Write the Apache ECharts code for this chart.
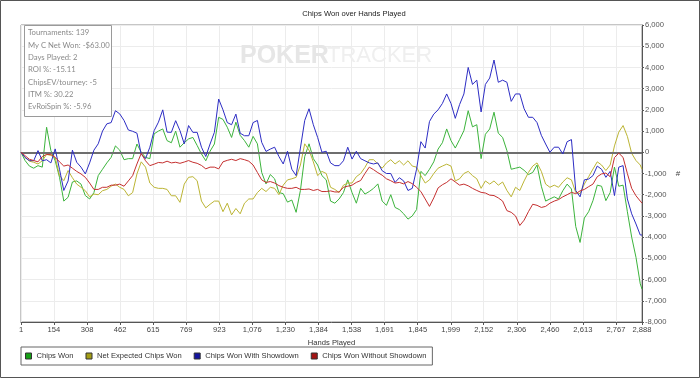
<!DOCTYPE html>
<html><head><meta charset="utf-8">
<script src="https://cdn.jsdelivr.net/npm/echarts@6/dist/echarts.min.js"></script>
<style>html,body{margin:0;padding:0;background:#fff}#c{width:700px;height:378px}</style>
</head><body><div id="c"></div>
<script>
const hands = [
1,20,40,60,80,100,120,140,160,180,
200,220,240,260,280,300,320,340,360,380,
400,420,440,460,480,500,520,540,560,580,
600,620,640,660,680,700,720,740,760,780,
800,820,840,860,880,900,920,940,960,980,
1000,1020,1040,1060,1080,1100,1120,1140,1160,1180,
1200,1220,1240,1260,1280,1300,1320,1340,1360,1380,
1400,1420,1440,1460,1480,1500,1520,1540,1560,1580,
1600,1620,1640,1660,1680,1700,1720,1740,1760,1780,
1800,1820,1840,1860,1880,1900,1920,1940,1960,1980,
2000,2020,2040,2060,2080,2100,2120,2140,2160,2180,
2200,2220,2240,2260,2280,2300,2320,2340,2360,2380,
2400,2420,2440,2460,2480,2500,2520,2540,2560,2580,
2600,2620,2640,2660,2680,2700,2720,2740,2760,2780,
2800,2820,2840,2860,2880,2888];

const chipsWon = [
0,-390,-650,-750,-630,-700,1180,80,-400,-1180,
-2300,-2120,-1400,-1350,-1500,-2040,-2200,-1900,-1100,-800,
-500,-240,300,100,-350,-300,-300,390,0,-240,
-300,870,1000,1100,550,450,1000,240,450,630,
700,320,-80,-400,50,390,1650,1550,1180,700,
1420,800,550,240,750,400,-950,-1490,-1050,-1250,
-1900,-1950,-2350,-2250,-2830,-1800,-200,400,-300,-600,
-1100,-1300,-2300,-2400,-2200,-1900,-1300,-1900,-2400,-1700,
-1970,-1850,-1700,-1490,-2300,-2500,-2000,-2600,-2700,-2900,
-3150,-3000,-2700,-900,-1100,-800,-450,150,450,1100,
550,200,600,1020,1960,1200,1300,-300,850,1100,
1890,900,700,80,-800,-750,-700,-850,-1050,-950,
-600,-1600,-2300,-2200,-2100,-2200,-1810,-1500,-1730,-3500,
-4250,-3100,-2800,-2280,-1550,-1600,-2280,-1900,-700,-1600,
-1550,-2800,-4000,-4950,-6200,-6450];

const netExpected = [
0,-240,-420,-470,-550,-400,-100,-150,-240,-1100,
-1340,-860,-1200,-1500,-1650,-1810,-2100,-1970,-2000,-1810,
-1750,-1600,-1500,-1650,-1750,-2050,-1900,-1020,-450,-700,
-1450,-1650,-1700,-1700,-1750,-2050,-2050,-2360,-1500,-1180,
-1150,-1340,-2300,-2620,-2450,-2300,-2300,-2800,-2400,-2950,
-2650,-2900,-2400,-2200,-2200,-1900,-1700,-1850,-1650,-1700,
-2000,-1550,-1300,-1250,-1180,-600,400,100,-450,-1100,
-900,-1000,-1650,-1750,-1900,-1550,-1450,-1450,-1150,-1000,
-710,-350,-350,-550,-750,-500,-350,-550,-400,-600,
-400,-650,-700,-1100,-1450,-1300,-1000,-750,-650,-560,
-650,-1350,-1250,-1000,-900,-1100,-1250,-1700,-1350,-1500,
-1350,-1550,-1400,-1800,-2100,-1650,-1800,-1350,-950,-650,
-500,-900,-1500,-1650,-1550,-1650,-1400,-1200,-1300,-1900,
-1950,-1500,-1150,-790,-450,-600,-860,-600,300,950,
1260,750,-50,-390,-600,-800];

const withShowdown = [
0,-250,-390,-400,80,-400,-350,-500,160,-800,
-1800,-1350,100,-470,-700,-1020,-500,100,400,1000,
1340,1400,1960,1810,1500,1050,990,900,-100,-300,
240,1020,1420,2000,950,940,1490,1020,400,1260,
940,940,240,-200,390,940,2510,2000,1400,1300,
1800,900,780,780,1400,1500,470,40,150,240,
-200,-550,50,-800,-1100,200,1500,2050,1300,700,
0,50,-500,-630,-630,-400,240,-320,50,-300,
-400,-500,-550,-500,-870,-1000,-1000,-1420,-1200,-1350,
-1800,-1700,-800,500,200,1450,1800,2000,2300,2750,
2300,1600,2250,2750,4000,3200,3400,1900,3200,3500,
4350,3300,3400,3300,2400,2750,2750,2050,1650,1650,
1400,800,390,0,240,240,-80,500,600,-1800,
-2100,-1300,-1260,-1100,-650,-800,-1180,-900,-2040,-700,
-630,-2200,-2900,-3380,-3900,-3900];

const withoutShowdown = [
0,-160,-330,-390,-450,-200,-100,-100,-240,-450,
-650,-600,-750,-900,-1020,-1180,-1450,-1750,-1750,-1650,
-1650,-1550,-1550,-1500,-1600,-1350,-1100,-550,-50,-400,
-630,-560,-480,-500,-420,-500,-470,-520,-460,-390,
-470,-520,-620,-780,-700,-700,-780,-450,-380,-330,
-390,-300,-350,-420,-600,-950,-1300,-1420,-1380,-1450,
-1570,-1650,-1700,-1700,-1650,-1750,-1750,-1730,-1800,-1750,
-1850,-1850,-1820,-1870,-1870,-1650,-1600,-1550,-1420,-1330,
-1000,-700,-820,-960,-1080,-1250,-1340,-1450,-1420,-1490,
-1380,-1480,-1650,-1850,-2200,-2550,-2150,-1680,-1530,-1420,
-1250,-1400,-1550,-1500,-1580,-1700,-1800,-1890,-1920,-2020,
-2040,-2150,-2300,-2750,-2830,-3000,-3450,-3200,-2800,-2450,
-2500,-2600,-2550,-2400,-2300,-2230,-2100,-2000,-1890,-1950,
-1820,-1750,-1620,-1500,-1150,-1020,-980,-1150,-250,-40,
-240,-1000,-1700,-2050,-2300,-2400];

const seriesNames = ['Chips Won','Net Expected Chips Won','Chips Won With Showdown','Chips Won Without Showdown'];
const xTicks = [1,154,308,462,615,769,923,1076,1230,1384,1538,1691,1845,1999,2152,2306,2460,2613,2767,2888];
const infoLines = ['Tournaments: 139','My C Net Won: -$63.00','Days Played: 2','ROI %: -15.11','ChipsEV/tourney: -5','ITM %: 30.22','EvRoiSpin %: -5.96'];

const FONT = '"Liberation Sans", Arial, sans-serif';
const fmt = v => Math.round(v).toLocaleString('en-US');
const pair = ys => hands.map((h, i) => [h, ys[i]]);

const lineColors = ['#3cb43c', '#bcb535', '#2d2dc4', '#c53030'];
const swatchColors = ['#14a014', '#a39d14', '#1414a0', '#a41414'];
const values = [chipsWon, netExpected, withShowdown, withoutShowdown];

const series = values.map((vals, i) => ({
  name: seriesNames[i], type: 'line', data: pair(vals), showSymbol: false, symbol: 'none',
  lineStyle: { color: lineColors[i], width: 1 }, itemStyle: { color: swatchColors[i] },
  z: 3 + i, silent: true
}));
series[3].markLine = {
  silent: true, symbol: 'none', label: { show: false }, animation: false,
  lineStyle: { color: '#6e6e6e', width: 2, type: 'solid' }, data: [{ yAxis: 0 }]
};

const graphics = [
  { type: 'rect', shape: { x: 0.5, y: 0.5, width: 699, height: 377 }, style: { fill: 'none', stroke: '#555', lineWidth: 1 }, z: 0, silent: true },
  { type: 'text', x: 354, y: 14, style: { text: 'Chips Won over Hands Played', font: '7.6px ' + FONT, fill: '#222', textAlign: 'center', textVerticalAlign: 'middle' }, z: 10 },
  { type: 'text', x: 240, y: 56, style: { text: 'POKER', font: 'bold 25px ' + FONT, fill: '#e6e6e6', textAlign: 'left', textVerticalAlign: 'middle' }, z: 1 },
  { type: 'text', x: 327, y: 56, style: { text: 'TRACKER', font: '22px ' + FONT, fill: '#efefef', textAlign: 'left', textVerticalAlign: 'middle' }, z: 1 },
  { type: 'rect', shape: { x: 24.5, y: 25.5, width: 87, height: 91 }, style: { fill: '#fff', stroke: '#9a9a9a', lineWidth: 1 }, z: 50 },
  { type: 'text', x: 678, y: 174, style: { text: '#', font: '8px ' + FONT, fill: '#444', textAlign: 'center', textVerticalAlign: 'middle' }, z: 10 }
];
infoLines.forEach((t, i) => graphics.push({
  type: 'text', x: 28, y: 33 + i * 12.3,
  style: { text: t, font: '7.7px Lato, "Open Sans", sans-serif', fill: '#8a8a8a', textAlign: 'left', textVerticalAlign: 'middle' }, z: 51
}));

const chart = echarts.init(document.getElementById('c'), null, { renderer: 'canvas' });
chart.setOption({
  animation: false,
  backgroundColor: '#fff',
  grid: { left: 21, right: 58, top: 25, bottom: 56, show: true, borderColor: '#8c8c8c', borderWidth: 1 },
  xAxis: {
    type: 'value', min: 1, max: 2888,
    name: 'Hands Played', nameLocation: 'middle', nameGap: 14,
    nameTextStyle: { fontSize: 7.6, color: '#333', fontFamily: FONT },
    axisLine: { show: true, onZero: false, lineStyle: { color: '#555' } },
    axisTick: { show: true, length: 3, customValues: xTicks, lineStyle: { color: '#555' } },
    axisLabel: { customValues: xTicks, fontSize: 7.6, color: '#444', margin: 4, fontFamily: FONT, formatter: v => fmt(v) },
    splitLine: { show: true, lineStyle: { color: '#ececec', width: 1 } }
  },
  yAxis: {
    type: 'value', position: 'right', min: -8000, max: 6000, interval: 1000,
    axisLine: { show: true, lineStyle: { color: '#555' } },
    axisTick: { show: true, length: 2, lineStyle: { color: '#555' } },
    axisLabel: { fontSize: 7.6, color: '#555', margin: 3, fontFamily: FONT, formatter: v => fmt(v) },
    splitLine: { show: true, lineStyle: { color: '#ececec', width: 1 } }
  },
  legend: {
    data: seriesNames, left: 21, top: 347, orient: 'horizontal',
    padding: [5, 6, 5, 4], itemGap: 12, itemWidth: 6, itemHeight: 6, icon: 'rect',
    borderColor: '#666', borderWidth: 1,
    itemStyle: { borderColor: '#333', borderWidth: 1 },
    textStyle: { fontSize: 7.6, color: '#333', fontFamily: FONT },
    selectedMode: false
  },
  graphic: graphics,
  series: series
});
</script></body></html>
